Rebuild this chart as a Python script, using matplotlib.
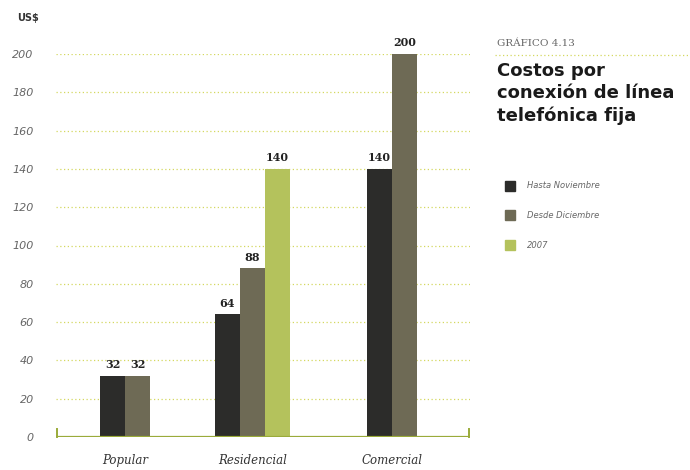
import numpy as np
import matplotlib.pyplot as plt

# data
categories = ['Popular', 'Residencial', 'Comercial']
series_names = ['Hasta Noviembre', 'Desde Diciembre', '2007']
hasta_nov = [32, 64, 140]
desde_dic = [32, 88, 200]
anio_2007 = [None, 140, None]
y_ticks = list(range(0, 201, 20))

colors = ['#2c2c2a', '#6e6a55', '#b4c25c']

fig = plt.figure(figsize=(6.9, 4.7), dpi=100)
ax = fig.add_axes([56/690, 1-437/470, 414/690, (437-54)/470])

# group layout (px-like units along x)
group_start = [100, 215, 367]
w = 25
series = [hasta_nov, desde_dic, anio_2007]
for s, (vals, col) in enumerate(zip(series, colors)):
    for g, v in enumerate(vals):
        if v is None:
            continue
        x = group_start[g] + s * w
        ax.bar(x, v, width=w, align='edge', color=col, zorder=3)
        ax.text(x + w/2, v + 3, str(v), ha='center', va='bottom',
                fontsize=8, fontweight='bold', color='#222222',
                family='DejaVu Serif', zorder=4)

ax.set_xlim(56, 470)
ax.set_ylim(0, 200)
for t in y_ticks[1:]:
    ax.axhline(t, color='#d4d860', linestyle=(0, (1, 2)), linewidth=0.9, zorder=1)
ax.axhline(0, color='#9aab3a', linewidth=1.6, zorder=5)
ax.plot([57, 57], [0, 4], color='#9aab3a', linewidth=1.4, clip_on=False)
ax.plot([469, 469], [0, 4], color='#9aab3a', linewidth=1.4, clip_on=False)

for sp in ax.spines.values():
    sp.set_visible(False)
ax.set_yticks(y_ticks)
ax.set_yticklabels([str(t) for t in y_ticks], fontsize=8, style='italic', color='#666666')
ax.tick_params(axis='y', length=0, pad=16)

centers = [group_start[0] + w, group_start[1] + 1.5*w, group_start[2] + w]
ax.set_xticks(centers)
ax.set_xticklabels(categories, fontsize=8.5, style='italic', color='#333333', family='DejaVu Serif')
ax.tick_params(axis='x', length=0, pad=12)

fig.text(17/690, 1-18/470, 'US$', fontsize=7, fontweight='bold', color='#333333', va='center')

# title block
fig.text(497/690, 1-43/470, 'GRÁFICO 4.13', fontsize=7.5, color='#666666',
         family='DejaVu Serif', va='center')
fig.add_artist(plt.Line2D([495/690, 1.0], [1-55/470, 1-55/470], color='#d4d860',
                          linestyle=(0, (1, 2)), linewidth=0.9))
fig.text(497/690, 1-62/470, 'Costos por\nconexión de línea\ntelefónica fija',
         fontsize=13, fontweight='bold', color='#1a1a1a', va='top', linespacing=1.3)

# legend
for i, (name, col) in enumerate(zip(series_names, colors)):
    yc = 1 - (186 + i*29.5)/470
    fig.add_artist(plt.Rectangle((505/690, yc - 5/470), 10/690, 10/470, color=col))
    fig.text(527/690, yc, name, fontsize=6, style='italic', color='#666666', va='center')

fig.savefig('out.png', dpi=100)
